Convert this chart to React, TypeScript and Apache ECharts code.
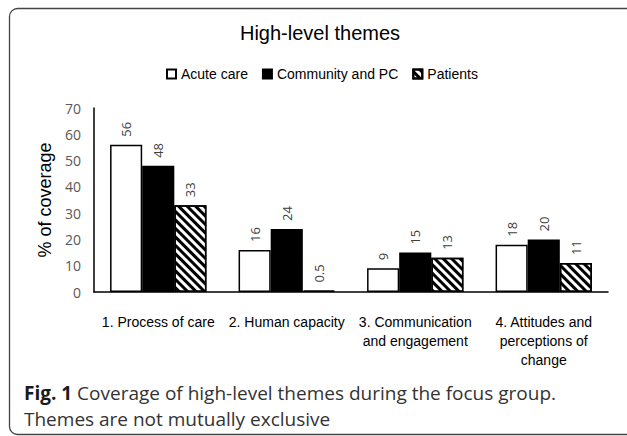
import React, { useEffect, useRef } from 'react';
import * as echarts from 'echarts';

const categories = [
  '1. Process of care',
  '2. Human capacity',
  '3. Communication\nand engagement',
  '4. Attitudes and\nperceptions of\nchange',
];
const seriesNames = ['Acute care', 'Community and PC', 'Patients'];
const acuteCare = [56, 16, 9, 18];
const communityPC = [48, 24, 15, 20];
const patients = [33, 0.5, 13, 11];
const yMin = 0;
const yMax = 70;
const yInterval = 10;
const titleText = 'High-level themes';
const yAxisName = '% of coverage';
const captionBold = 'Fig. 1';
const captionLine1 = ' Coverage of high-level themes during the focus group.';
const captionLine2 = 'Themes are not mutually exclusive';

const SANS = "'Liberation Sans', Arial, sans-serif";
const OPEN = "'Open Sans', sans-serif";

export default function App() {
  const ref = useRef<HTMLDivElement>(null);
  useEffect(() => {
    if (!ref.current) return;
    const chart = echarts.init(ref.current, undefined, { renderer: 'svg' });
    const labelCfg = {
      show: true,
      position: 'top',
      rotate: 90,
      align: 'left',
      verticalAlign: 'middle',
      distance: 8,
      fontFamily: OPEN,
      fontSize: 13,
      color: '#404040',
    };
    const baseItem = { borderColor: '#000', borderWidth: 1.5 };
    chart.setOption({
      animation: false,
      backgroundColor: '#fff',
      title: {
        text: titleText,
        left: 320,
        top: 23,
        padding: 0,
        textAlign: 'center',
        textStyle: { fontFamily: SANS, fontSize: 20, fontWeight: 'normal', color: '#000' },
      },
      legend: {
        data: seriesNames,
        left: 166,
        top: 67,
        padding: 0,
        icon: 'rect',
        itemWidth: 9,
        itemHeight: 9,
        itemGap: 14,
        textStyle: { fontFamily: SANS, fontSize: 14, color: '#000' },
      },
      grid: { left: 94, right: 19, top: 108, bottom: 144, containLabel: false, outerBoundsMode: 'none' },
      xAxis: {
        type: 'category',
        data: categories,
        axisLine: { lineStyle: { color: '#000', width: 1.5 } },
        axisTick: { show: false },
        axisLabel: {
          interval: 0,
          margin: 20,
          fontFamily: SANS,
          fontSize: 14,
          lineHeight: 19,
          color: '#000',
        },
      },
      yAxis: {
        type: 'value',
        min: yMin,
        max: yMax,
        interval: yInterval,
        name: yAxisName,
        nameLocation: 'middle',
        nameGap: 40,
        nameTextStyle: { fontFamily: SANS, fontSize: 18, color: '#000' },
        axisLine: { show: true, lineStyle: { color: '#000', width: 1.5 } },
        axisTick: { show: false },
        splitLine: { show: false },
        axisLabel: { margin: 13, fontFamily: OPEN, fontSize: 14, color: '#595959' },
      },
      series: [
        {
          name: seriesNames[0],
          type: 'bar',
          data: acuteCare,
          barGap: '0%',
          barCategoryGap: '25%',
          itemStyle: { ...baseItem, color: '#fff' },
          label: labelCfg,
        },
        {
          name: seriesNames[1],
          type: 'bar',
          data: communityPC,
          barGap: '0%',
          barCategoryGap: '25%',
          itemStyle: { ...baseItem, color: '#000' },
          label: labelCfg,
        },
        {
          name: seriesNames[2],
          type: 'bar',
          data: patients,
          barGap: '0%',
          barCategoryGap: '25%',
          itemStyle: {
            ...baseItem,
            color: '#fff',
            decal: {
              symbol: 'rect',
              symbolSize: 1,
              dashArrayX: [1, 0],
              dashArrayY: [3, 3],
              rotation: Math.PI / 4,
              color: '#000',
            },
          },
          label: labelCfg,
        },
      ],
      graphic: [
        {
          type: 'rect',
          silent: true,
          z: -10,
          shape: { x: 9.5, y: 8.5, width: 640, height: 426, r: 8 },
          style: { fill: 'none', stroke: '#444', lineWidth: 1.3 },
        },
        {
          type: 'text',
          x: 24,
          y: 393,
          style: {
            text: '{b|' + captionBold + '}' + captionLine1,
            verticalAlign: 'middle',
            fontFamily: OPEN,
            fontSize: 19,
            fill: '#333',
            rich: { b: { fontFamily: OPEN, fontSize: 19, fontWeight: 'bold', fill: '#1a1a1a' } },
          },
        },
        {
          type: 'text',
          x: 24,
          y: 419,
          style: {
            text: captionLine2,
            verticalAlign: 'middle',
            fontFamily: OPEN,
            fontSize: 19,
            fill: '#333',
          },
        },
      ],
    });
    return () => chart.dispose();
  }, []);
  return (
    <div
      ref={ref}
      style={{ position: 'fixed', left: 0, top: 0, width: 627, height: 436 }}
    />
  );
}
